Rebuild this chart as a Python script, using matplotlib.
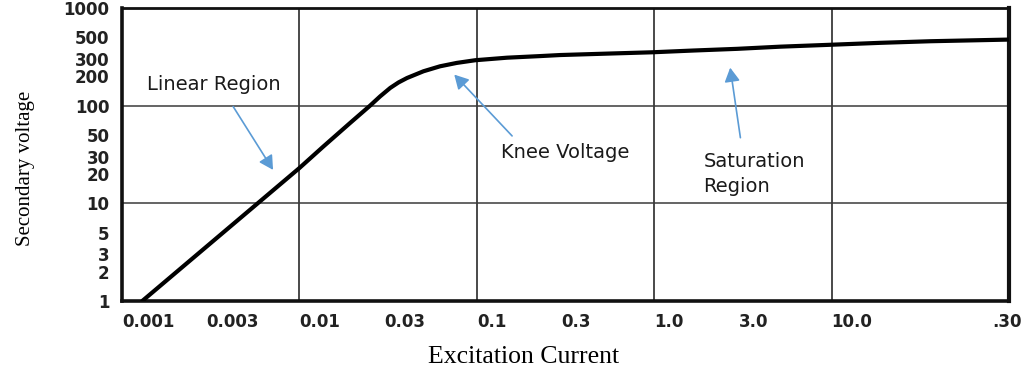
import numpy as np
import matplotlib
matplotlib.use("Agg")
import matplotlib.pyplot as plt

# excitation curve (log-log)
current = [0.0013, 0.01, 0.0136, 0.0193, 0.025, 0.0285, 0.0325, 0.0362,
           0.0404, 0.05, 0.062, 0.077, 0.098, 0.148, 0.228, 0.295, 0.565,
           0.97, 1.66, 2.94, 5.14, 9.73, 18.8, 36.1, 99.4]
voltage = [1.0, 23.0, 38.0, 66.5, 100.0, 124.5, 152.0, 173.0,
           192.0, 225.0, 253.0, 274.0, 292.0, 310.0, 322.0, 330.0, 342.0,
           352.0, 367.0, 382.0, 402.0, 420.0, 440.0, 457.0, 475.0]

x_ticks = [0.001, 0.003, 0.01, 0.03, 0.1, 0.3, 1.0, 3.0, 10.0]
x_labels = ["0.001", "0.003", "0.01", "0.03", "0.1", "0.3", "1.0", "3.0", "10.0"]
y_ticks = [1, 2, 3, 5, 10, 20, 30, 50, 100, 200, 300, 500, 1000]
y_labels = [str(v) for v in y_ticks]
grid_x = [0.01, 0.1, 1.0, 10.0]
grid_y = [10, 100]

# (text, text position, arrow tail, arrow tip)
notes = [
    ("Linear Region", (0.0033, 164), (0.00423, 98), (0.0071, 22)),
    ("Knee Voltage", (0.316, 33), (0.158, 49), (0.0746, 208)),
]
sat_text = "Saturation\nRegion"
sat_pos = (1.89, 20)
sat_tail, sat_tip = (3.06, 47), (2.68, 245)

ARROW = "#5B9BD5"
TICKFONT = dict(fontweight="bold", fontsize=12, family="DejaVu Sans", color="#222222")
ARROWPROPS = dict(arrowstyle="-|>,head_length=0.6,head_width=0.33",
                  mutation_scale=14, color=ARROW, lw=1.2, shrinkA=0, shrinkB=0)

fig = plt.figure(figsize=(10.29, 3.71), dpi=100)
ax = fig.add_axes([0.1186, 0.1887, 0.8620, 0.7897])
ax.set_xscale("log")
ax.set_yscale("log")
ax.set_xlim(0.001, 100)
ax.set_ylim(1, 1000)

for gx in grid_x:
    ax.axvline(gx, color="#3a3a3a", lw=1.3, zorder=1)
for gy in grid_y:
    ax.axhline(gy, color="#3a3a3a", lw=1.1, zorder=1)

ax.plot(current, voltage, color="black", lw=3.0, solid_capstyle="round",
        solid_joinstyle="round", zorder=3)

ax.minorticks_off()
ax.set_xticks(x_ticks, x_labels, ha="left", **TICKFONT)
ax.set_yticks(y_ticks, y_labels, **TICKFONT)
ax.tick_params(axis="both", length=0)
ax.tick_params(axis="x", pad=9)
ax.tick_params(axis="y", pad=9)
ax.annotate(".30", xy=(1.0, 0), xycoords="axes fraction", xytext=(-2, -12),
            textcoords="offset pixels", ha="center", va="top", **TICKFONT)

for side, w in (("left", 2.6), ("bottom", 2.6), ("right", 3.0), ("top", 2.0)):
    ax.spines[side].set_linewidth(w)
    ax.spines[side].set_color("#111111")

for txt, pos, tail, tip in notes:
    ax.text(pos[0], pos[1], txt, ha="center", va="center", fontsize=14,
            family="DejaVu Sans", color="#1a1a1a")
    ax.annotate("", xy=tip, xytext=tail, arrowprops=ARROWPROPS, zorder=4)
ax.text(sat_pos[0], sat_pos[1], sat_text, ha="left", va="center", fontsize=14,
        family="DejaVu Sans", color="#1a1a1a", linespacing=1.35)
ax.annotate("", xy=sat_tip, xytext=sat_tail, arrowprops=ARROWPROPS, zorder=4)

ax.set_xlabel("Excitation Current", family="Liberation Serif", fontsize=18.5)
ax.set_ylabel("Secondary voltage", family="Liberation Serif", fontsize=15)
ax.xaxis.set_label_coords(0.4527, -0.152)
ax.yaxis.set_label_coords(-0.098, 0.454)

fig.savefig("out.png", dpi=100)
